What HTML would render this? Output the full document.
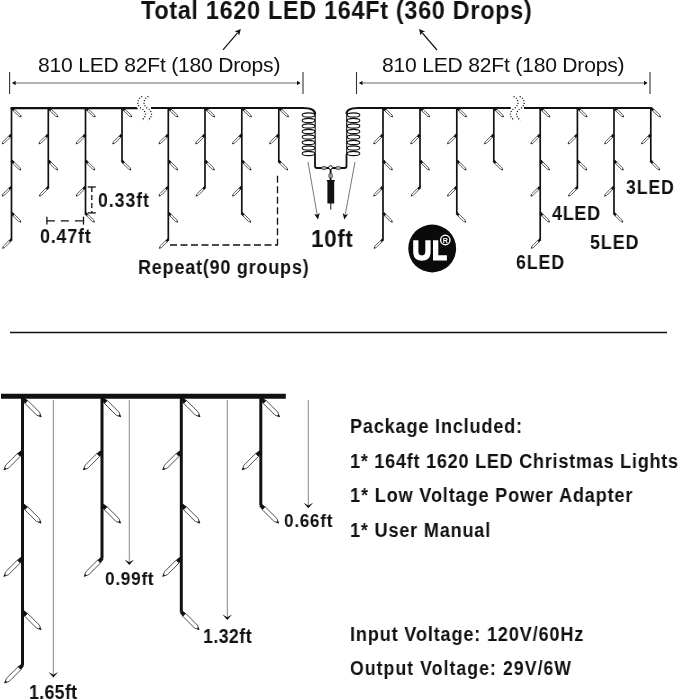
<!DOCTYPE html>
<html><head><meta charset="utf-8"><style>
html,body{margin:0;padding:0;background:#fff;}
body{width:679px;height:700px;position:relative;overflow:hidden;}
.t{position:absolute;font-family:"Liberation Sans",sans-serif;line-height:1;white-space:nowrap;color:#111;will-change:transform;}
</style></head><body>
<svg width="679" height="700" viewBox="0 0 679 700" style="position:absolute;left:0;top:0;will-change:transform"><path d="M10.6,106.9 H136.5 L138.4,109.2 H10.6 Z" fill="#111"/><path d="M151,108 H303 Q315,108 315,114" stroke="#111" stroke-width="2.2" fill="none"/><path d="M510.8,108 H346 Q346.5,108 346.5,114" stroke="#111" stroke-width="0" fill="none"/><path d="M358,108 Q346.5,108 346.5,114" stroke="#111" stroke-width="2" fill="none"/><path d="M358,108 H510.8" stroke="#111" stroke-width="2.2" fill="none"/><path d="M524,108 H651.6" stroke="#111" stroke-width="2.2" fill="none"/><line x1="11.5" y1="108" x2="11.5" y2="239.4" stroke="#111" stroke-width="1.7"/><g transform="translate(12.01,108.35) rotate(43)"><polygon points="-0.4,-1.4 2.9,-1.15 2.9,1.15 -0.4,1.4" fill="#111"/><path d="M2.6,-1.0 H10.6 L12.6,0 L10.6,1.0 H2.6 Z" fill="#fff" stroke="#111" stroke-width="0.65" stroke-linejoin="miter"/><polygon points="11.5,-0.55 12.799999999999999,0 11.5,0.55" fill="#111"/></g><g transform="translate(11.07,135.00) rotate(135)"><polygon points="-0.4,-1.4 2.9,-1.15 2.9,1.15 -0.4,1.4" fill="#111"/><path d="M2.6,-1.0 H10.6 L12.6,0 L10.6,1.0 H2.6 Z" fill="#fff" stroke="#111" stroke-width="0.65" stroke-linejoin="miter"/><polygon points="11.5,-0.55 12.799999999999999,0 11.5,0.55" fill="#111"/></g><g transform="translate(11.93,161.10) rotate(45)"><polygon points="-0.4,-1.4 2.9,-1.15 2.9,1.15 -0.4,1.4" fill="#111"/><path d="M2.6,-1.0 H10.6 L12.6,0 L10.6,1.0 H2.6 Z" fill="#fff" stroke="#111" stroke-width="0.65" stroke-linejoin="miter"/><polygon points="11.5,-0.55 12.799999999999999,0 11.5,0.55" fill="#111"/></g><g transform="translate(11.07,187.20) rotate(135)"><polygon points="-0.4,-1.4 2.9,-1.15 2.9,1.15 -0.4,1.4" fill="#111"/><path d="M2.6,-1.0 H10.6 L12.6,0 L10.6,1.0 H2.6 Z" fill="#fff" stroke="#111" stroke-width="0.65" stroke-linejoin="miter"/><polygon points="11.5,-0.55 12.799999999999999,0 11.5,0.55" fill="#111"/></g><g transform="translate(11.93,213.30) rotate(45)"><polygon points="-0.4,-1.4 2.9,-1.15 2.9,1.15 -0.4,1.4" fill="#111"/><path d="M2.6,-1.0 H10.6 L12.6,0 L10.6,1.0 H2.6 Z" fill="#fff" stroke="#111" stroke-width="0.65" stroke-linejoin="miter"/><polygon points="11.5,-0.55 12.799999999999999,0 11.5,0.55" fill="#111"/></g><g transform="translate(11.50,239.40) rotate(135)"><polygon points="-0.4,-1.4 2.9,-1.15 2.9,1.15 -0.4,1.4" fill="#111"/><path d="M2.6,-1.0 H10.6 L12.6,0 L10.6,1.0 H2.6 Z" fill="#fff" stroke="#111" stroke-width="0.65" stroke-linejoin="miter"/><polygon points="11.5,-0.55 12.799999999999999,0 11.5,0.55" fill="#111"/></g><line x1="48.3" y1="108" x2="48.3" y2="187.20000000000002" stroke="#111" stroke-width="1.7"/><g transform="translate(48.81,108.35) rotate(43)"><polygon points="-0.4,-1.4 2.9,-1.15 2.9,1.15 -0.4,1.4" fill="#111"/><path d="M2.6,-1.0 H10.6 L12.6,0 L10.6,1.0 H2.6 Z" fill="#fff" stroke="#111" stroke-width="0.65" stroke-linejoin="miter"/><polygon points="11.5,-0.55 12.799999999999999,0 11.5,0.55" fill="#111"/></g><g transform="translate(47.88,135.00) rotate(135)"><polygon points="-0.4,-1.4 2.9,-1.15 2.9,1.15 -0.4,1.4" fill="#111"/><path d="M2.6,-1.0 H10.6 L12.6,0 L10.6,1.0 H2.6 Z" fill="#fff" stroke="#111" stroke-width="0.65" stroke-linejoin="miter"/><polygon points="11.5,-0.55 12.799999999999999,0 11.5,0.55" fill="#111"/></g><g transform="translate(48.72,161.10) rotate(45)"><polygon points="-0.4,-1.4 2.9,-1.15 2.9,1.15 -0.4,1.4" fill="#111"/><path d="M2.6,-1.0 H10.6 L12.6,0 L10.6,1.0 H2.6 Z" fill="#fff" stroke="#111" stroke-width="0.65" stroke-linejoin="miter"/><polygon points="11.5,-0.55 12.799999999999999,0 11.5,0.55" fill="#111"/></g><g transform="translate(48.30,187.20) rotate(135)"><polygon points="-0.4,-1.4 2.9,-1.15 2.9,1.15 -0.4,1.4" fill="#111"/><path d="M2.6,-1.0 H10.6 L12.6,0 L10.6,1.0 H2.6 Z" fill="#fff" stroke="#111" stroke-width="0.65" stroke-linejoin="miter"/><polygon points="11.5,-0.55 12.799999999999999,0 11.5,0.55" fill="#111"/></g><line x1="85.5" y1="108" x2="85.5" y2="213.3" stroke="#111" stroke-width="1.7"/><g transform="translate(86.01,108.35) rotate(43)"><polygon points="-0.4,-1.4 2.9,-1.15 2.9,1.15 -0.4,1.4" fill="#111"/><path d="M2.6,-1.0 H10.6 L12.6,0 L10.6,1.0 H2.6 Z" fill="#fff" stroke="#111" stroke-width="0.65" stroke-linejoin="miter"/><polygon points="11.5,-0.55 12.799999999999999,0 11.5,0.55" fill="#111"/></g><g transform="translate(85.08,135.00) rotate(135)"><polygon points="-0.4,-1.4 2.9,-1.15 2.9,1.15 -0.4,1.4" fill="#111"/><path d="M2.6,-1.0 H10.6 L12.6,0 L10.6,1.0 H2.6 Z" fill="#fff" stroke="#111" stroke-width="0.65" stroke-linejoin="miter"/><polygon points="11.5,-0.55 12.799999999999999,0 11.5,0.55" fill="#111"/></g><g transform="translate(85.92,161.10) rotate(45)"><polygon points="-0.4,-1.4 2.9,-1.15 2.9,1.15 -0.4,1.4" fill="#111"/><path d="M2.6,-1.0 H10.6 L12.6,0 L10.6,1.0 H2.6 Z" fill="#fff" stroke="#111" stroke-width="0.65" stroke-linejoin="miter"/><polygon points="11.5,-0.55 12.799999999999999,0 11.5,0.55" fill="#111"/></g><g transform="translate(85.08,187.20) rotate(135)"><polygon points="-0.4,-1.4 2.9,-1.15 2.9,1.15 -0.4,1.4" fill="#111"/><path d="M2.6,-1.0 H10.6 L12.6,0 L10.6,1.0 H2.6 Z" fill="#fff" stroke="#111" stroke-width="0.65" stroke-linejoin="miter"/><polygon points="11.5,-0.55 12.799999999999999,0 11.5,0.55" fill="#111"/></g><g transform="translate(85.50,213.30) rotate(45)"><polygon points="-0.4,-1.4 2.9,-1.15 2.9,1.15 -0.4,1.4" fill="#111"/><path d="M2.6,-1.0 H10.6 L12.6,0 L10.6,1.0 H2.6 Z" fill="#fff" stroke="#111" stroke-width="0.65" stroke-linejoin="miter"/><polygon points="11.5,-0.55 12.799999999999999,0 11.5,0.55" fill="#111"/></g><line x1="122" y1="108" x2="122" y2="161.10000000000002" stroke="#111" stroke-width="1.7"/><g transform="translate(122.51,108.35) rotate(43)"><polygon points="-0.4,-1.4 2.9,-1.15 2.9,1.15 -0.4,1.4" fill="#111"/><path d="M2.6,-1.0 H10.6 L12.6,0 L10.6,1.0 H2.6 Z" fill="#fff" stroke="#111" stroke-width="0.65" stroke-linejoin="miter"/><polygon points="11.5,-0.55 12.799999999999999,0 11.5,0.55" fill="#111"/></g><g transform="translate(121.58,135.00) rotate(135)"><polygon points="-0.4,-1.4 2.9,-1.15 2.9,1.15 -0.4,1.4" fill="#111"/><path d="M2.6,-1.0 H10.6 L12.6,0 L10.6,1.0 H2.6 Z" fill="#fff" stroke="#111" stroke-width="0.65" stroke-linejoin="miter"/><polygon points="11.5,-0.55 12.799999999999999,0 11.5,0.55" fill="#111"/></g><g transform="translate(122.00,161.10) rotate(45)"><polygon points="-0.4,-1.4 2.9,-1.15 2.9,1.15 -0.4,1.4" fill="#111"/><path d="M2.6,-1.0 H10.6 L12.6,0 L10.6,1.0 H2.6 Z" fill="#fff" stroke="#111" stroke-width="0.65" stroke-linejoin="miter"/><polygon points="11.5,-0.55 12.799999999999999,0 11.5,0.55" fill="#111"/></g><line x1="168.3" y1="108" x2="168.3" y2="239.4" stroke="#111" stroke-width="1.7"/><g transform="translate(168.81,108.35) rotate(43)"><polygon points="-0.4,-1.4 2.9,-1.15 2.9,1.15 -0.4,1.4" fill="#111"/><path d="M2.6,-1.0 H10.6 L12.6,0 L10.6,1.0 H2.6 Z" fill="#fff" stroke="#111" stroke-width="0.65" stroke-linejoin="miter"/><polygon points="11.5,-0.55 12.799999999999999,0 11.5,0.55" fill="#111"/></g><g transform="translate(167.88,135.00) rotate(135)"><polygon points="-0.4,-1.4 2.9,-1.15 2.9,1.15 -0.4,1.4" fill="#111"/><path d="M2.6,-1.0 H10.6 L12.6,0 L10.6,1.0 H2.6 Z" fill="#fff" stroke="#111" stroke-width="0.65" stroke-linejoin="miter"/><polygon points="11.5,-0.55 12.799999999999999,0 11.5,0.55" fill="#111"/></g><g transform="translate(168.73,161.10) rotate(45)"><polygon points="-0.4,-1.4 2.9,-1.15 2.9,1.15 -0.4,1.4" fill="#111"/><path d="M2.6,-1.0 H10.6 L12.6,0 L10.6,1.0 H2.6 Z" fill="#fff" stroke="#111" stroke-width="0.65" stroke-linejoin="miter"/><polygon points="11.5,-0.55 12.799999999999999,0 11.5,0.55" fill="#111"/></g><g transform="translate(167.88,187.20) rotate(135)"><polygon points="-0.4,-1.4 2.9,-1.15 2.9,1.15 -0.4,1.4" fill="#111"/><path d="M2.6,-1.0 H10.6 L12.6,0 L10.6,1.0 H2.6 Z" fill="#fff" stroke="#111" stroke-width="0.65" stroke-linejoin="miter"/><polygon points="11.5,-0.55 12.799999999999999,0 11.5,0.55" fill="#111"/></g><g transform="translate(168.73,213.30) rotate(45)"><polygon points="-0.4,-1.4 2.9,-1.15 2.9,1.15 -0.4,1.4" fill="#111"/><path d="M2.6,-1.0 H10.6 L12.6,0 L10.6,1.0 H2.6 Z" fill="#fff" stroke="#111" stroke-width="0.65" stroke-linejoin="miter"/><polygon points="11.5,-0.55 12.799999999999999,0 11.5,0.55" fill="#111"/></g><g transform="translate(168.30,239.40) rotate(135)"><polygon points="-0.4,-1.4 2.9,-1.15 2.9,1.15 -0.4,1.4" fill="#111"/><path d="M2.6,-1.0 H10.6 L12.6,0 L10.6,1.0 H2.6 Z" fill="#fff" stroke="#111" stroke-width="0.65" stroke-linejoin="miter"/><polygon points="11.5,-0.55 12.799999999999999,0 11.5,0.55" fill="#111"/></g><line x1="205" y1="108" x2="205" y2="187.20000000000002" stroke="#111" stroke-width="1.7"/><g transform="translate(205.51,108.35) rotate(43)"><polygon points="-0.4,-1.4 2.9,-1.15 2.9,1.15 -0.4,1.4" fill="#111"/><path d="M2.6,-1.0 H10.6 L12.6,0 L10.6,1.0 H2.6 Z" fill="#fff" stroke="#111" stroke-width="0.65" stroke-linejoin="miter"/><polygon points="11.5,-0.55 12.799999999999999,0 11.5,0.55" fill="#111"/></g><g transform="translate(204.57,135.00) rotate(135)"><polygon points="-0.4,-1.4 2.9,-1.15 2.9,1.15 -0.4,1.4" fill="#111"/><path d="M2.6,-1.0 H10.6 L12.6,0 L10.6,1.0 H2.6 Z" fill="#fff" stroke="#111" stroke-width="0.65" stroke-linejoin="miter"/><polygon points="11.5,-0.55 12.799999999999999,0 11.5,0.55" fill="#111"/></g><g transform="translate(205.43,161.10) rotate(45)"><polygon points="-0.4,-1.4 2.9,-1.15 2.9,1.15 -0.4,1.4" fill="#111"/><path d="M2.6,-1.0 H10.6 L12.6,0 L10.6,1.0 H2.6 Z" fill="#fff" stroke="#111" stroke-width="0.65" stroke-linejoin="miter"/><polygon points="11.5,-0.55 12.799999999999999,0 11.5,0.55" fill="#111"/></g><g transform="translate(205.00,187.20) rotate(135)"><polygon points="-0.4,-1.4 2.9,-1.15 2.9,1.15 -0.4,1.4" fill="#111"/><path d="M2.6,-1.0 H10.6 L12.6,0 L10.6,1.0 H2.6 Z" fill="#fff" stroke="#111" stroke-width="0.65" stroke-linejoin="miter"/><polygon points="11.5,-0.55 12.799999999999999,0 11.5,0.55" fill="#111"/></g><line x1="241.8" y1="108" x2="241.8" y2="213.3" stroke="#111" stroke-width="1.7"/><g transform="translate(242.31,108.35) rotate(43)"><polygon points="-0.4,-1.4 2.9,-1.15 2.9,1.15 -0.4,1.4" fill="#111"/><path d="M2.6,-1.0 H10.6 L12.6,0 L10.6,1.0 H2.6 Z" fill="#fff" stroke="#111" stroke-width="0.65" stroke-linejoin="miter"/><polygon points="11.5,-0.55 12.799999999999999,0 11.5,0.55" fill="#111"/></g><g transform="translate(241.38,135.00) rotate(135)"><polygon points="-0.4,-1.4 2.9,-1.15 2.9,1.15 -0.4,1.4" fill="#111"/><path d="M2.6,-1.0 H10.6 L12.6,0 L10.6,1.0 H2.6 Z" fill="#fff" stroke="#111" stroke-width="0.65" stroke-linejoin="miter"/><polygon points="11.5,-0.55 12.799999999999999,0 11.5,0.55" fill="#111"/></g><g transform="translate(242.23,161.10) rotate(45)"><polygon points="-0.4,-1.4 2.9,-1.15 2.9,1.15 -0.4,1.4" fill="#111"/><path d="M2.6,-1.0 H10.6 L12.6,0 L10.6,1.0 H2.6 Z" fill="#fff" stroke="#111" stroke-width="0.65" stroke-linejoin="miter"/><polygon points="11.5,-0.55 12.799999999999999,0 11.5,0.55" fill="#111"/></g><g transform="translate(241.38,187.20) rotate(135)"><polygon points="-0.4,-1.4 2.9,-1.15 2.9,1.15 -0.4,1.4" fill="#111"/><path d="M2.6,-1.0 H10.6 L12.6,0 L10.6,1.0 H2.6 Z" fill="#fff" stroke="#111" stroke-width="0.65" stroke-linejoin="miter"/><polygon points="11.5,-0.55 12.799999999999999,0 11.5,0.55" fill="#111"/></g><g transform="translate(241.80,213.30) rotate(45)"><polygon points="-0.4,-1.4 2.9,-1.15 2.9,1.15 -0.4,1.4" fill="#111"/><path d="M2.6,-1.0 H10.6 L12.6,0 L10.6,1.0 H2.6 Z" fill="#fff" stroke="#111" stroke-width="0.65" stroke-linejoin="miter"/><polygon points="11.5,-0.55 12.799999999999999,0 11.5,0.55" fill="#111"/></g><line x1="278.8" y1="108" x2="278.8" y2="161.10000000000002" stroke="#111" stroke-width="1.7"/><g transform="translate(279.31,108.35) rotate(43)"><polygon points="-0.4,-1.4 2.9,-1.15 2.9,1.15 -0.4,1.4" fill="#111"/><path d="M2.6,-1.0 H10.6 L12.6,0 L10.6,1.0 H2.6 Z" fill="#fff" stroke="#111" stroke-width="0.65" stroke-linejoin="miter"/><polygon points="11.5,-0.55 12.799999999999999,0 11.5,0.55" fill="#111"/></g><g transform="translate(278.38,135.00) rotate(135)"><polygon points="-0.4,-1.4 2.9,-1.15 2.9,1.15 -0.4,1.4" fill="#111"/><path d="M2.6,-1.0 H10.6 L12.6,0 L10.6,1.0 H2.6 Z" fill="#fff" stroke="#111" stroke-width="0.65" stroke-linejoin="miter"/><polygon points="11.5,-0.55 12.799999999999999,0 11.5,0.55" fill="#111"/></g><g transform="translate(278.80,161.10) rotate(45)"><polygon points="-0.4,-1.4 2.9,-1.15 2.9,1.15 -0.4,1.4" fill="#111"/><path d="M2.6,-1.0 H10.6 L12.6,0 L10.6,1.0 H2.6 Z" fill="#fff" stroke="#111" stroke-width="0.65" stroke-linejoin="miter"/><polygon points="11.5,-0.55 12.799999999999999,0 11.5,0.55" fill="#111"/></g><line x1="383" y1="108" x2="383" y2="239.4" stroke="#111" stroke-width="1.7"/><g transform="translate(383.51,108.35) rotate(43)"><polygon points="-0.4,-1.4 2.9,-1.15 2.9,1.15 -0.4,1.4" fill="#111"/><path d="M2.6,-1.0 H10.6 L12.6,0 L10.6,1.0 H2.6 Z" fill="#fff" stroke="#111" stroke-width="0.65" stroke-linejoin="miter"/><polygon points="11.5,-0.55 12.799999999999999,0 11.5,0.55" fill="#111"/></g><g transform="translate(382.57,135.00) rotate(135)"><polygon points="-0.4,-1.4 2.9,-1.15 2.9,1.15 -0.4,1.4" fill="#111"/><path d="M2.6,-1.0 H10.6 L12.6,0 L10.6,1.0 H2.6 Z" fill="#fff" stroke="#111" stroke-width="0.65" stroke-linejoin="miter"/><polygon points="11.5,-0.55 12.799999999999999,0 11.5,0.55" fill="#111"/></g><g transform="translate(383.43,161.10) rotate(45)"><polygon points="-0.4,-1.4 2.9,-1.15 2.9,1.15 -0.4,1.4" fill="#111"/><path d="M2.6,-1.0 H10.6 L12.6,0 L10.6,1.0 H2.6 Z" fill="#fff" stroke="#111" stroke-width="0.65" stroke-linejoin="miter"/><polygon points="11.5,-0.55 12.799999999999999,0 11.5,0.55" fill="#111"/></g><g transform="translate(382.57,187.20) rotate(135)"><polygon points="-0.4,-1.4 2.9,-1.15 2.9,1.15 -0.4,1.4" fill="#111"/><path d="M2.6,-1.0 H10.6 L12.6,0 L10.6,1.0 H2.6 Z" fill="#fff" stroke="#111" stroke-width="0.65" stroke-linejoin="miter"/><polygon points="11.5,-0.55 12.799999999999999,0 11.5,0.55" fill="#111"/></g><g transform="translate(383.43,213.30) rotate(45)"><polygon points="-0.4,-1.4 2.9,-1.15 2.9,1.15 -0.4,1.4" fill="#111"/><path d="M2.6,-1.0 H10.6 L12.6,0 L10.6,1.0 H2.6 Z" fill="#fff" stroke="#111" stroke-width="0.65" stroke-linejoin="miter"/><polygon points="11.5,-0.55 12.799999999999999,0 11.5,0.55" fill="#111"/></g><g transform="translate(383.00,239.40) rotate(135)"><polygon points="-0.4,-1.4 2.9,-1.15 2.9,1.15 -0.4,1.4" fill="#111"/><path d="M2.6,-1.0 H10.6 L12.6,0 L10.6,1.0 H2.6 Z" fill="#fff" stroke="#111" stroke-width="0.65" stroke-linejoin="miter"/><polygon points="11.5,-0.55 12.799999999999999,0 11.5,0.55" fill="#111"/></g><line x1="420" y1="108" x2="420" y2="187.20000000000002" stroke="#111" stroke-width="1.7"/><g transform="translate(420.51,108.35) rotate(43)"><polygon points="-0.4,-1.4 2.9,-1.15 2.9,1.15 -0.4,1.4" fill="#111"/><path d="M2.6,-1.0 H10.6 L12.6,0 L10.6,1.0 H2.6 Z" fill="#fff" stroke="#111" stroke-width="0.65" stroke-linejoin="miter"/><polygon points="11.5,-0.55 12.799999999999999,0 11.5,0.55" fill="#111"/></g><g transform="translate(419.57,135.00) rotate(135)"><polygon points="-0.4,-1.4 2.9,-1.15 2.9,1.15 -0.4,1.4" fill="#111"/><path d="M2.6,-1.0 H10.6 L12.6,0 L10.6,1.0 H2.6 Z" fill="#fff" stroke="#111" stroke-width="0.65" stroke-linejoin="miter"/><polygon points="11.5,-0.55 12.799999999999999,0 11.5,0.55" fill="#111"/></g><g transform="translate(420.43,161.10) rotate(45)"><polygon points="-0.4,-1.4 2.9,-1.15 2.9,1.15 -0.4,1.4" fill="#111"/><path d="M2.6,-1.0 H10.6 L12.6,0 L10.6,1.0 H2.6 Z" fill="#fff" stroke="#111" stroke-width="0.65" stroke-linejoin="miter"/><polygon points="11.5,-0.55 12.799999999999999,0 11.5,0.55" fill="#111"/></g><g transform="translate(420.00,187.20) rotate(135)"><polygon points="-0.4,-1.4 2.9,-1.15 2.9,1.15 -0.4,1.4" fill="#111"/><path d="M2.6,-1.0 H10.6 L12.6,0 L10.6,1.0 H2.6 Z" fill="#fff" stroke="#111" stroke-width="0.65" stroke-linejoin="miter"/><polygon points="11.5,-0.55 12.799999999999999,0 11.5,0.55" fill="#111"/></g><line x1="456.8" y1="108" x2="456.8" y2="213.3" stroke="#111" stroke-width="1.7"/><g transform="translate(457.31,108.35) rotate(43)"><polygon points="-0.4,-1.4 2.9,-1.15 2.9,1.15 -0.4,1.4" fill="#111"/><path d="M2.6,-1.0 H10.6 L12.6,0 L10.6,1.0 H2.6 Z" fill="#fff" stroke="#111" stroke-width="0.65" stroke-linejoin="miter"/><polygon points="11.5,-0.55 12.799999999999999,0 11.5,0.55" fill="#111"/></g><g transform="translate(456.38,135.00) rotate(135)"><polygon points="-0.4,-1.4 2.9,-1.15 2.9,1.15 -0.4,1.4" fill="#111"/><path d="M2.6,-1.0 H10.6 L12.6,0 L10.6,1.0 H2.6 Z" fill="#fff" stroke="#111" stroke-width="0.65" stroke-linejoin="miter"/><polygon points="11.5,-0.55 12.799999999999999,0 11.5,0.55" fill="#111"/></g><g transform="translate(457.23,161.10) rotate(45)"><polygon points="-0.4,-1.4 2.9,-1.15 2.9,1.15 -0.4,1.4" fill="#111"/><path d="M2.6,-1.0 H10.6 L12.6,0 L10.6,1.0 H2.6 Z" fill="#fff" stroke="#111" stroke-width="0.65" stroke-linejoin="miter"/><polygon points="11.5,-0.55 12.799999999999999,0 11.5,0.55" fill="#111"/></g><g transform="translate(456.38,187.20) rotate(135)"><polygon points="-0.4,-1.4 2.9,-1.15 2.9,1.15 -0.4,1.4" fill="#111"/><path d="M2.6,-1.0 H10.6 L12.6,0 L10.6,1.0 H2.6 Z" fill="#fff" stroke="#111" stroke-width="0.65" stroke-linejoin="miter"/><polygon points="11.5,-0.55 12.799999999999999,0 11.5,0.55" fill="#111"/></g><g transform="translate(456.80,213.30) rotate(45)"><polygon points="-0.4,-1.4 2.9,-1.15 2.9,1.15 -0.4,1.4" fill="#111"/><path d="M2.6,-1.0 H10.6 L12.6,0 L10.6,1.0 H2.6 Z" fill="#fff" stroke="#111" stroke-width="0.65" stroke-linejoin="miter"/><polygon points="11.5,-0.55 12.799999999999999,0 11.5,0.55" fill="#111"/></g><line x1="493.8" y1="108" x2="493.8" y2="161.10000000000002" stroke="#111" stroke-width="1.7"/><g transform="translate(494.31,108.35) rotate(43)"><polygon points="-0.4,-1.4 2.9,-1.15 2.9,1.15 -0.4,1.4" fill="#111"/><path d="M2.6,-1.0 H10.6 L12.6,0 L10.6,1.0 H2.6 Z" fill="#fff" stroke="#111" stroke-width="0.65" stroke-linejoin="miter"/><polygon points="11.5,-0.55 12.799999999999999,0 11.5,0.55" fill="#111"/></g><g transform="translate(493.38,135.00) rotate(135)"><polygon points="-0.4,-1.4 2.9,-1.15 2.9,1.15 -0.4,1.4" fill="#111"/><path d="M2.6,-1.0 H10.6 L12.6,0 L10.6,1.0 H2.6 Z" fill="#fff" stroke="#111" stroke-width="0.65" stroke-linejoin="miter"/><polygon points="11.5,-0.55 12.799999999999999,0 11.5,0.55" fill="#111"/></g><g transform="translate(493.80,161.10) rotate(45)"><polygon points="-0.4,-1.4 2.9,-1.15 2.9,1.15 -0.4,1.4" fill="#111"/><path d="M2.6,-1.0 H10.6 L12.6,0 L10.6,1.0 H2.6 Z" fill="#fff" stroke="#111" stroke-width="0.65" stroke-linejoin="miter"/><polygon points="11.5,-0.55 12.799999999999999,0 11.5,0.55" fill="#111"/></g><line x1="540.2" y1="108" x2="540.2" y2="239.4" stroke="#111" stroke-width="1.7"/><g transform="translate(540.71,108.35) rotate(43)"><polygon points="-0.4,-1.4 2.9,-1.15 2.9,1.15 -0.4,1.4" fill="#111"/><path d="M2.6,-1.0 H10.6 L12.6,0 L10.6,1.0 H2.6 Z" fill="#fff" stroke="#111" stroke-width="0.65" stroke-linejoin="miter"/><polygon points="11.5,-0.55 12.799999999999999,0 11.5,0.55" fill="#111"/></g><g transform="translate(539.78,135.00) rotate(135)"><polygon points="-0.4,-1.4 2.9,-1.15 2.9,1.15 -0.4,1.4" fill="#111"/><path d="M2.6,-1.0 H10.6 L12.6,0 L10.6,1.0 H2.6 Z" fill="#fff" stroke="#111" stroke-width="0.65" stroke-linejoin="miter"/><polygon points="11.5,-0.55 12.799999999999999,0 11.5,0.55" fill="#111"/></g><g transform="translate(540.62,161.10) rotate(45)"><polygon points="-0.4,-1.4 2.9,-1.15 2.9,1.15 -0.4,1.4" fill="#111"/><path d="M2.6,-1.0 H10.6 L12.6,0 L10.6,1.0 H2.6 Z" fill="#fff" stroke="#111" stroke-width="0.65" stroke-linejoin="miter"/><polygon points="11.5,-0.55 12.799999999999999,0 11.5,0.55" fill="#111"/></g><g transform="translate(539.78,187.20) rotate(135)"><polygon points="-0.4,-1.4 2.9,-1.15 2.9,1.15 -0.4,1.4" fill="#111"/><path d="M2.6,-1.0 H10.6 L12.6,0 L10.6,1.0 H2.6 Z" fill="#fff" stroke="#111" stroke-width="0.65" stroke-linejoin="miter"/><polygon points="11.5,-0.55 12.799999999999999,0 11.5,0.55" fill="#111"/></g><g transform="translate(540.62,213.30) rotate(45)"><polygon points="-0.4,-1.4 2.9,-1.15 2.9,1.15 -0.4,1.4" fill="#111"/><path d="M2.6,-1.0 H10.6 L12.6,0 L10.6,1.0 H2.6 Z" fill="#fff" stroke="#111" stroke-width="0.65" stroke-linejoin="miter"/><polygon points="11.5,-0.55 12.799999999999999,0 11.5,0.55" fill="#111"/></g><g transform="translate(540.20,239.40) rotate(135)"><polygon points="-0.4,-1.4 2.9,-1.15 2.9,1.15 -0.4,1.4" fill="#111"/><path d="M2.6,-1.0 H10.6 L12.6,0 L10.6,1.0 H2.6 Z" fill="#fff" stroke="#111" stroke-width="0.65" stroke-linejoin="miter"/><polygon points="11.5,-0.55 12.799999999999999,0 11.5,0.55" fill="#111"/></g><line x1="577.4" y1="108" x2="577.4" y2="187.20000000000002" stroke="#111" stroke-width="1.7"/><g transform="translate(577.91,108.35) rotate(43)"><polygon points="-0.4,-1.4 2.9,-1.15 2.9,1.15 -0.4,1.4" fill="#111"/><path d="M2.6,-1.0 H10.6 L12.6,0 L10.6,1.0 H2.6 Z" fill="#fff" stroke="#111" stroke-width="0.65" stroke-linejoin="miter"/><polygon points="11.5,-0.55 12.799999999999999,0 11.5,0.55" fill="#111"/></g><g transform="translate(576.98,135.00) rotate(135)"><polygon points="-0.4,-1.4 2.9,-1.15 2.9,1.15 -0.4,1.4" fill="#111"/><path d="M2.6,-1.0 H10.6 L12.6,0 L10.6,1.0 H2.6 Z" fill="#fff" stroke="#111" stroke-width="0.65" stroke-linejoin="miter"/><polygon points="11.5,-0.55 12.799999999999999,0 11.5,0.55" fill="#111"/></g><g transform="translate(577.82,161.10) rotate(45)"><polygon points="-0.4,-1.4 2.9,-1.15 2.9,1.15 -0.4,1.4" fill="#111"/><path d="M2.6,-1.0 H10.6 L12.6,0 L10.6,1.0 H2.6 Z" fill="#fff" stroke="#111" stroke-width="0.65" stroke-linejoin="miter"/><polygon points="11.5,-0.55 12.799999999999999,0 11.5,0.55" fill="#111"/></g><g transform="translate(577.40,187.20) rotate(135)"><polygon points="-0.4,-1.4 2.9,-1.15 2.9,1.15 -0.4,1.4" fill="#111"/><path d="M2.6,-1.0 H10.6 L12.6,0 L10.6,1.0 H2.6 Z" fill="#fff" stroke="#111" stroke-width="0.65" stroke-linejoin="miter"/><polygon points="11.5,-0.55 12.799999999999999,0 11.5,0.55" fill="#111"/></g><line x1="614" y1="108" x2="614" y2="213.3" stroke="#111" stroke-width="1.7"/><g transform="translate(614.51,108.35) rotate(43)"><polygon points="-0.4,-1.4 2.9,-1.15 2.9,1.15 -0.4,1.4" fill="#111"/><path d="M2.6,-1.0 H10.6 L12.6,0 L10.6,1.0 H2.6 Z" fill="#fff" stroke="#111" stroke-width="0.65" stroke-linejoin="miter"/><polygon points="11.5,-0.55 12.799999999999999,0 11.5,0.55" fill="#111"/></g><g transform="translate(613.58,135.00) rotate(135)"><polygon points="-0.4,-1.4 2.9,-1.15 2.9,1.15 -0.4,1.4" fill="#111"/><path d="M2.6,-1.0 H10.6 L12.6,0 L10.6,1.0 H2.6 Z" fill="#fff" stroke="#111" stroke-width="0.65" stroke-linejoin="miter"/><polygon points="11.5,-0.55 12.799999999999999,0 11.5,0.55" fill="#111"/></g><g transform="translate(614.42,161.10) rotate(45)"><polygon points="-0.4,-1.4 2.9,-1.15 2.9,1.15 -0.4,1.4" fill="#111"/><path d="M2.6,-1.0 H10.6 L12.6,0 L10.6,1.0 H2.6 Z" fill="#fff" stroke="#111" stroke-width="0.65" stroke-linejoin="miter"/><polygon points="11.5,-0.55 12.799999999999999,0 11.5,0.55" fill="#111"/></g><g transform="translate(613.58,187.20) rotate(135)"><polygon points="-0.4,-1.4 2.9,-1.15 2.9,1.15 -0.4,1.4" fill="#111"/><path d="M2.6,-1.0 H10.6 L12.6,0 L10.6,1.0 H2.6 Z" fill="#fff" stroke="#111" stroke-width="0.65" stroke-linejoin="miter"/><polygon points="11.5,-0.55 12.799999999999999,0 11.5,0.55" fill="#111"/></g><g transform="translate(614.00,213.30) rotate(45)"><polygon points="-0.4,-1.4 2.9,-1.15 2.9,1.15 -0.4,1.4" fill="#111"/><path d="M2.6,-1.0 H10.6 L12.6,0 L10.6,1.0 H2.6 Z" fill="#fff" stroke="#111" stroke-width="0.65" stroke-linejoin="miter"/><polygon points="11.5,-0.55 12.799999999999999,0 11.5,0.55" fill="#111"/></g><line x1="650.8" y1="108" x2="650.8" y2="161.10000000000002" stroke="#111" stroke-width="1.7"/><g transform="translate(651.31,108.35) rotate(43)"><polygon points="-0.4,-1.4 2.9,-1.15 2.9,1.15 -0.4,1.4" fill="#111"/><path d="M2.6,-1.0 H10.6 L12.6,0 L10.6,1.0 H2.6 Z" fill="#fff" stroke="#111" stroke-width="0.65" stroke-linejoin="miter"/><polygon points="11.5,-0.55 12.799999999999999,0 11.5,0.55" fill="#111"/></g><g transform="translate(650.38,135.00) rotate(135)"><polygon points="-0.4,-1.4 2.9,-1.15 2.9,1.15 -0.4,1.4" fill="#111"/><path d="M2.6,-1.0 H10.6 L12.6,0 L10.6,1.0 H2.6 Z" fill="#fff" stroke="#111" stroke-width="0.65" stroke-linejoin="miter"/><polygon points="11.5,-0.55 12.799999999999999,0 11.5,0.55" fill="#111"/></g><g transform="translate(650.80,161.10) rotate(45)"><polygon points="-0.4,-1.4 2.9,-1.15 2.9,1.15 -0.4,1.4" fill="#111"/><path d="M2.6,-1.0 H10.6 L12.6,0 L10.6,1.0 H2.6 Z" fill="#fff" stroke="#111" stroke-width="0.65" stroke-linejoin="miter"/><polygon points="11.5,-0.55 12.799999999999999,0 11.5,0.55" fill="#111"/></g><path d="M142.30,96.4 C136.80,99 136.50,105 140.80,108 C146.80,111.5 146.80,117 141.30,120.3" stroke="#000" stroke-width="1.15" fill="none" stroke-dasharray="1.1 1.6"/><path d="M148.50,96.4 C143.00,99 142.70,105 147.00,108 C153.00,111.5 153.00,117 147.50,120.3" stroke="#000" stroke-width="1.15" fill="none" stroke-dasharray="1.1 1.6"/><path d="M513.50,96.4 C519.00,99 519.30,105 515.00,108 C509.00,111.5 509.00,117 514.50,120.3" stroke="#000" stroke-width="1.15" fill="none" stroke-dasharray="1.1 1.6"/><path d="M519.70,96.4 C525.20,99 525.50,105 521.20,108 C515.20,111.5 515.20,117 520.70,120.3" stroke="#000" stroke-width="1.15" fill="none" stroke-dasharray="1.1 1.6"/><ellipse cx="308.5" cy="115.0" rx="6.3" ry="2.1" fill="none" stroke="#111" stroke-width="1.1"/><ellipse cx="308.5" cy="120.5" rx="6.3" ry="2.1" fill="none" stroke="#111" stroke-width="1.1"/><ellipse cx="308.5" cy="126.0" rx="6.3" ry="2.1" fill="none" stroke="#111" stroke-width="1.1"/><ellipse cx="308.5" cy="131.5" rx="6.3" ry="2.1" fill="none" stroke="#111" stroke-width="1.1"/><ellipse cx="308.5" cy="137.0" rx="6.3" ry="2.1" fill="none" stroke="#111" stroke-width="1.1"/><ellipse cx="308.5" cy="142.5" rx="6.3" ry="2.1" fill="none" stroke="#111" stroke-width="1.1"/><ellipse cx="308.5" cy="148.0" rx="6.3" ry="2.1" fill="none" stroke="#111" stroke-width="1.1"/><ellipse cx="308.5" cy="153.5" rx="6.3" ry="2.1" fill="none" stroke="#111" stroke-width="1.1"/><line x1="315.2" y1="112" x2="315.2" y2="155" stroke="#111" stroke-width="1.1"/><ellipse cx="353.5" cy="115.0" rx="6.3" ry="2.1" fill="none" stroke="#111" stroke-width="1.1"/><ellipse cx="353.5" cy="120.5" rx="6.3" ry="2.1" fill="none" stroke="#111" stroke-width="1.1"/><ellipse cx="353.5" cy="126.0" rx="6.3" ry="2.1" fill="none" stroke="#111" stroke-width="1.1"/><ellipse cx="353.5" cy="131.5" rx="6.3" ry="2.1" fill="none" stroke="#111" stroke-width="1.1"/><ellipse cx="353.5" cy="137.0" rx="6.3" ry="2.1" fill="none" stroke="#111" stroke-width="1.1"/><ellipse cx="353.5" cy="142.5" rx="6.3" ry="2.1" fill="none" stroke="#111" stroke-width="1.1"/><ellipse cx="353.5" cy="148.0" rx="6.3" ry="2.1" fill="none" stroke="#111" stroke-width="1.1"/><ellipse cx="353.5" cy="153.5" rx="6.3" ry="2.1" fill="none" stroke="#111" stroke-width="1.1"/><line x1="346.7" y1="112" x2="346.7" y2="155" stroke="#111" stroke-width="1.1"/><path d="M315,154 V166 Q315,168 317,168 H344.5 Q346.5,168 346.5,166 V154" stroke="#111" stroke-width="1.8" fill="none"/><rect x="321.8" y="166.4" width="4.4" height="3.2" rx="1" fill="#999" stroke="#333" stroke-width="0.6"/><rect x="336.1" y="166.4" width="4.4" height="3.2" rx="1" fill="#999" stroke="#333" stroke-width="0.6"/><line x1="330.6" y1="168" x2="330.6" y2="180" stroke="#111" stroke-width="1.8"/><circle cx="330.6" cy="167.6" r="1.9" fill="#fff" stroke="#111" stroke-width="1"/><rect x="328.8" y="173.5" width="3.6" height="4.4" rx="1" fill="#999" stroke="#333" stroke-width="0.6"/><path d="M326.6,180 H335 L334.2,182 V203.6 H327.4 V182 Z" fill="#111"/><line x1="330.8" y1="203" x2="330.8" y2="209.5" stroke="#111" stroke-width="1"/><line x1="308" y1="162" x2="317.14" y2="214.57" stroke="#555" stroke-width="0.8"/><polygon points="318.00,219.50 314.21,214.07 317.19,214.87 319.73,213.11" fill="#111"/><line x1="355" y1="162" x2="345.21" y2="214.58" stroke="#555" stroke-width="0.8"/><polygon points="344.30,219.50 342.64,213.09 345.16,214.88 348.15,214.11" fill="#111"/><line x1="223" y1="49.9" x2="237.56" y2="32.81" stroke="#111" stroke-width="1.2"/><polygon points="240.80,29.00 239.19,35.51 237.75,32.58 234.63,31.62" fill="#111"/><line x1="437" y1="50" x2="422.25" y2="32.80" stroke="#111" stroke-width="1.2"/><polygon points="419.00,29.00 425.18,31.60 422.06,32.57 420.63,35.51" fill="#111"/><line x1="9.6" y1="72" x2="9.6" y2="94" stroke="#333" stroke-width="1.1"/><line x1="303" y1="72" x2="303" y2="94" stroke="#333" stroke-width="1.1"/><line x1="12.6" y1="83" x2="300" y2="83" stroke="#666" stroke-width="1.2"/><polygon points="12.1,83 15.6,80.7 15.6,85.3" fill="#111"/><polygon points="300.5,83 297,80.7 297,85.3" fill="#111"/><line x1="356.5" y1="72" x2="356.5" y2="94" stroke="#333" stroke-width="1.1"/><line x1="650" y1="72" x2="650" y2="94" stroke="#333" stroke-width="1.1"/><line x1="359.5" y1="83" x2="647" y2="83" stroke="#666" stroke-width="1.2"/><polygon points="359.0,83 362.5,80.7 362.5,85.3" fill="#111"/><polygon points="647.5,83 644,80.7 644,85.3" fill="#111"/><line x1="91.8" y1="187" x2="91.8" y2="212.9" stroke="#111" stroke-width="1.3" stroke-dasharray="5 3"/><line x1="87.8" y1="187" x2="95.8" y2="187" stroke="#111" stroke-width="1.3"/><line x1="87.8" y1="212.9" x2="95.8" y2="212.9" stroke="#111" stroke-width="1.3"/><line x1="46.9" y1="220.8" x2="83.5" y2="220.8" stroke="#111" stroke-width="1.3" stroke-dasharray="8 6"/><line x1="46.9" y1="216.7" x2="46.9" y2="224.6" stroke="#111" stroke-width="1.3"/><line x1="83.5" y1="216.7" x2="83.5" y2="224.6" stroke="#111" stroke-width="1.3"/><path d="M170,245 H277.5" stroke="#111" stroke-width="1.3" fill="none" stroke-dasharray="7 3.5"/><path d="M277.5,175.7 V245.6" stroke="#111" stroke-width="1.3" fill="none" stroke-dasharray="7 3.5"/><circle cx="432.2" cy="248.5" r="23.9" fill="#0a0a0a"/><path d="M413.2,240.3 H418.4 V251.5 Q418.4,255.4 421.9,255.4 Q425.3,255.4 425.3,251.5 V240.3 H430.6 V252 Q430.6,260.7 421.9,260.7 Q413.2,260.7 413.2,252 Z" fill="#fff"/><path d="M433,240.3 H438.3 V255.3 H446.9 V260.6 H433 Z" fill="#fff"/><circle cx="445.3" cy="240" r="4.7" fill="#0a0a0a" stroke="#fff" stroke-width="1.4"/><text x="445.4" y="242.7" font-family="Liberation Sans" font-weight="700" font-size="7.2" fill="#fff" text-anchor="middle">R</text><line x1="10" y1="332.6" x2="667" y2="332.6" stroke="#111" stroke-width="1.5"/><line x1="1" y1="396.2" x2="285.8" y2="396.2" stroke="#111" stroke-width="5"/><line x1="22.5" y1="396.2" x2="22.5" y2="665.2" stroke="#111" stroke-width="3"/><g transform="translate(23.40,399.00) rotate(45)"><polygon points="-0.4,-1.7 4.5,-2.1999999999999997 4.5,2.1999999999999997 -0.4,1.7" fill="#111"/><path d="M4.2,-2.05 H20.8 L25.200000000000003,0 L20.8,2.05 H4.2 Z" fill="#fff" stroke="#111" stroke-width="0.7" stroke-linejoin="miter"/><polygon points="22.78,-1.1275 25.400000000000002,0 22.78,1.1275" fill="#111"/></g><g transform="translate(21.75,452.00) rotate(135)"><polygon points="-0.4,-1.7 4.5,-2.1999999999999997 4.5,2.1999999999999997 -0.4,1.7" fill="#111"/><path d="M4.2,-2.05 H20.8 L25.200000000000003,0 L20.8,2.05 H4.2 Z" fill="#fff" stroke="#111" stroke-width="0.7" stroke-linejoin="miter"/><polygon points="22.78,-1.1275 25.400000000000002,0 22.78,1.1275" fill="#111"/></g><g transform="translate(23.25,505.30) rotate(45)"><polygon points="-0.4,-1.7 4.5,-2.1999999999999997 4.5,2.1999999999999997 -0.4,1.7" fill="#111"/><path d="M4.2,-2.05 H20.8 L25.200000000000003,0 L20.8,2.05 H4.2 Z" fill="#fff" stroke="#111" stroke-width="0.7" stroke-linejoin="miter"/><polygon points="22.78,-1.1275 25.400000000000002,0 22.78,1.1275" fill="#111"/></g><g transform="translate(21.75,558.60) rotate(135)"><polygon points="-0.4,-1.7 4.5,-2.1999999999999997 4.5,2.1999999999999997 -0.4,1.7" fill="#111"/><path d="M4.2,-2.05 H20.8 L25.200000000000003,0 L20.8,2.05 H4.2 Z" fill="#fff" stroke="#111" stroke-width="0.7" stroke-linejoin="miter"/><polygon points="22.78,-1.1275 25.400000000000002,0 22.78,1.1275" fill="#111"/></g><g transform="translate(23.25,611.90) rotate(45)"><polygon points="-0.4,-1.7 4.5,-2.1999999999999997 4.5,2.1999999999999997 -0.4,1.7" fill="#111"/><path d="M4.2,-2.05 H20.8 L25.200000000000003,0 L20.8,2.05 H4.2 Z" fill="#fff" stroke="#111" stroke-width="0.7" stroke-linejoin="miter"/><polygon points="22.78,-1.1275 25.400000000000002,0 22.78,1.1275" fill="#111"/></g><g transform="translate(22.50,665.20) rotate(135)"><polygon points="-0.4,-1.7 4.5,-2.1999999999999997 4.5,2.1999999999999997 -0.4,1.7" fill="#111"/><path d="M4.2,-2.05 H20.8 L25.200000000000003,0 L20.8,2.05 H4.2 Z" fill="#fff" stroke="#111" stroke-width="0.7" stroke-linejoin="miter"/><polygon points="22.78,-1.1275 25.400000000000002,0 22.78,1.1275" fill="#111"/></g><line x1="102" y1="396.2" x2="102" y2="558.5999999999999" stroke="#111" stroke-width="3"/><g transform="translate(102.90,399.00) rotate(45)"><polygon points="-0.4,-1.7 4.5,-2.1999999999999997 4.5,2.1999999999999997 -0.4,1.7" fill="#111"/><path d="M4.2,-2.05 H20.8 L25.200000000000003,0 L20.8,2.05 H4.2 Z" fill="#fff" stroke="#111" stroke-width="0.7" stroke-linejoin="miter"/><polygon points="22.78,-1.1275 25.400000000000002,0 22.78,1.1275" fill="#111"/></g><g transform="translate(101.25,452.00) rotate(135)"><polygon points="-0.4,-1.7 4.5,-2.1999999999999997 4.5,2.1999999999999997 -0.4,1.7" fill="#111"/><path d="M4.2,-2.05 H20.8 L25.200000000000003,0 L20.8,2.05 H4.2 Z" fill="#fff" stroke="#111" stroke-width="0.7" stroke-linejoin="miter"/><polygon points="22.78,-1.1275 25.400000000000002,0 22.78,1.1275" fill="#111"/></g><g transform="translate(102.75,505.30) rotate(45)"><polygon points="-0.4,-1.7 4.5,-2.1999999999999997 4.5,2.1999999999999997 -0.4,1.7" fill="#111"/><path d="M4.2,-2.05 H20.8 L25.200000000000003,0 L20.8,2.05 H4.2 Z" fill="#fff" stroke="#111" stroke-width="0.7" stroke-linejoin="miter"/><polygon points="22.78,-1.1275 25.400000000000002,0 22.78,1.1275" fill="#111"/></g><g transform="translate(102.00,558.60) rotate(135)"><polygon points="-0.4,-1.7 4.5,-2.1999999999999997 4.5,2.1999999999999997 -0.4,1.7" fill="#111"/><path d="M4.2,-2.05 H20.8 L25.200000000000003,0 L20.8,2.05 H4.2 Z" fill="#fff" stroke="#111" stroke-width="0.7" stroke-linejoin="miter"/><polygon points="22.78,-1.1275 25.400000000000002,0 22.78,1.1275" fill="#111"/></g><line x1="181.3" y1="396.2" x2="181.3" y2="611.9" stroke="#111" stroke-width="3"/><g transform="translate(182.20,399.00) rotate(45)"><polygon points="-0.4,-1.7 4.5,-2.1999999999999997 4.5,2.1999999999999997 -0.4,1.7" fill="#111"/><path d="M4.2,-2.05 H20.8 L25.200000000000003,0 L20.8,2.05 H4.2 Z" fill="#fff" stroke="#111" stroke-width="0.7" stroke-linejoin="miter"/><polygon points="22.78,-1.1275 25.400000000000002,0 22.78,1.1275" fill="#111"/></g><g transform="translate(180.55,452.00) rotate(135)"><polygon points="-0.4,-1.7 4.5,-2.1999999999999997 4.5,2.1999999999999997 -0.4,1.7" fill="#111"/><path d="M4.2,-2.05 H20.8 L25.200000000000003,0 L20.8,2.05 H4.2 Z" fill="#fff" stroke="#111" stroke-width="0.7" stroke-linejoin="miter"/><polygon points="22.78,-1.1275 25.400000000000002,0 22.78,1.1275" fill="#111"/></g><g transform="translate(182.05,505.30) rotate(45)"><polygon points="-0.4,-1.7 4.5,-2.1999999999999997 4.5,2.1999999999999997 -0.4,1.7" fill="#111"/><path d="M4.2,-2.05 H20.8 L25.200000000000003,0 L20.8,2.05 H4.2 Z" fill="#fff" stroke="#111" stroke-width="0.7" stroke-linejoin="miter"/><polygon points="22.78,-1.1275 25.400000000000002,0 22.78,1.1275" fill="#111"/></g><g transform="translate(180.55,558.60) rotate(135)"><polygon points="-0.4,-1.7 4.5,-2.1999999999999997 4.5,2.1999999999999997 -0.4,1.7" fill="#111"/><path d="M4.2,-2.05 H20.8 L25.200000000000003,0 L20.8,2.05 H4.2 Z" fill="#fff" stroke="#111" stroke-width="0.7" stroke-linejoin="miter"/><polygon points="22.78,-1.1275 25.400000000000002,0 22.78,1.1275" fill="#111"/></g><g transform="translate(181.30,611.90) rotate(45)"><polygon points="-0.4,-1.7 4.5,-2.1999999999999997 4.5,2.1999999999999997 -0.4,1.7" fill="#111"/><path d="M4.2,-2.05 H20.8 L25.200000000000003,0 L20.8,2.05 H4.2 Z" fill="#fff" stroke="#111" stroke-width="0.7" stroke-linejoin="miter"/><polygon points="22.78,-1.1275 25.400000000000002,0 22.78,1.1275" fill="#111"/></g><line x1="260.8" y1="396.2" x2="260.8" y2="505.29999999999995" stroke="#111" stroke-width="3"/><g transform="translate(261.70,399.00) rotate(45)"><polygon points="-0.4,-1.7 4.5,-2.1999999999999997 4.5,2.1999999999999997 -0.4,1.7" fill="#111"/><path d="M4.2,-2.05 H20.8 L25.200000000000003,0 L20.8,2.05 H4.2 Z" fill="#fff" stroke="#111" stroke-width="0.7" stroke-linejoin="miter"/><polygon points="22.78,-1.1275 25.400000000000002,0 22.78,1.1275" fill="#111"/></g><g transform="translate(260.05,452.00) rotate(135)"><polygon points="-0.4,-1.7 4.5,-2.1999999999999997 4.5,2.1999999999999997 -0.4,1.7" fill="#111"/><path d="M4.2,-2.05 H20.8 L25.200000000000003,0 L20.8,2.05 H4.2 Z" fill="#fff" stroke="#111" stroke-width="0.7" stroke-linejoin="miter"/><polygon points="22.78,-1.1275 25.400000000000002,0 22.78,1.1275" fill="#111"/></g><g transform="translate(260.80,505.30) rotate(45)"><polygon points="-0.4,-1.7 4.5,-2.1999999999999997 4.5,2.1999999999999997 -0.4,1.7" fill="#111"/><path d="M4.2,-2.05 H20.8 L25.200000000000003,0 L20.8,2.05 H4.2 Z" fill="#fff" stroke="#111" stroke-width="0.7" stroke-linejoin="miter"/><polygon points="22.78,-1.1275 25.400000000000002,0 22.78,1.1275" fill="#111"/></g><line x1="53.3" y1="400" x2="53.3" y2="675.5" stroke="#888" stroke-width="1"/><polygon points="48.5,672.0 53.3,674.7 58.099999999999994,672.0 53.3,677.5" fill="#111"/><line x1="129.3" y1="400" x2="129.3" y2="563" stroke="#888" stroke-width="1"/><polygon points="124.50000000000001,559.5 129.3,562.2 134.10000000000002,559.5 129.3,565" fill="#111"/><line x1="227.3" y1="400" x2="227.3" y2="618" stroke="#888" stroke-width="1"/><polygon points="222.5,614.5 227.3,617.2 232.10000000000002,614.5 227.3,620" fill="#111"/><line x1="308.3" y1="400" x2="308.3" y2="506.3" stroke="#888" stroke-width="1"/><polygon points="303.5,502.8 308.3,505.5 313.1,502.8 308.3,508.3" fill="#111"/></svg>
<div class="t" style="left:141.49px;top:-1.70px;font-size:25.46px;font-weight:700;letter-spacing:0.754px;transform:scaleX(0.92);transform-origin:0 0;">Total 1620 LED 164Ft (360 Drops)</div><div class="t" style="left:38.36px;top:53.91px;font-size:21.08px;font-weight:400;letter-spacing:-0.206px;">810 LED 82Ft (180 Drops)</div><div class="t" style="left:382.06px;top:53.91px;font-size:21.08px;font-weight:400;letter-spacing:-0.202px;">810 LED 82Ft (180 Drops)</div><div class="t" style="left:98.29px;top:190.62px;font-size:19.67px;font-weight:700;letter-spacing:1.062px;transform:scaleX(0.9);transform-origin:0 0;">0.33ft</div><div class="t" style="left:40.28px;top:227.07px;font-size:19.95px;font-weight:700;letter-spacing:0.851px;transform:scaleX(0.9);transform-origin:0 0;">0.47ft</div><div class="t" style="left:137.80px;top:256.99px;font-size:20.05px;font-weight:700;letter-spacing:0.856px;transform:scaleX(0.9);transform-origin:0 0;">Repeat(90 groups)</div><div class="t" style="left:310.55px;top:227.04px;font-size:24.52px;font-weight:700;letter-spacing:0.580px;transform:scaleX(0.92);transform-origin:0 0;">10ft</div><div class="t" style="left:626.38px;top:178.24px;font-size:19.49px;font-weight:700;letter-spacing:1.126px;transform:scaleX(0.9);transform-origin:0 0;">3LED</div><div class="t" style="left:552.46px;top:202.93px;font-size:20.05px;font-weight:700;letter-spacing:0.738px;transform:scaleX(0.9);transform-origin:0 0;">4LED</div><div class="t" style="left:589.60px;top:233.06px;font-size:19.86px;font-weight:700;letter-spacing:0.992px;transform:scaleX(0.9);transform-origin:0 0;">5LED</div><div class="t" style="left:515.61px;top:253.42px;font-size:19.67px;font-weight:700;letter-spacing:1.073px;transform:scaleX(0.9);transform-origin:0 0;">6LED</div><div class="t" style="left:28.83px;top:683.27px;font-size:19.76px;font-weight:700;letter-spacing:0.362px;transform:scaleX(0.9);transform-origin:0 0;">1.65ft</div><div class="t" style="left:105.01px;top:568.88px;font-size:19.25px;font-weight:700;letter-spacing:0.746px;transform:scaleX(0.9);transform-origin:0 0;">0.99ft</div><div class="t" style="left:203.33px;top:627.07px;font-size:19.76px;font-weight:700;letter-spacing:0.473px;transform:scaleX(0.9);transform-origin:0 0;">1.32ft</div><div class="t" style="left:283.71px;top:510.70px;font-size:19.10px;font-weight:700;letter-spacing:0.774px;transform:scaleX(0.9);transform-origin:0 0;">0.66ft</div><div class="t" style="left:349.69px;top:415.68px;font-size:20.12px;font-weight:700;letter-spacing:0.910px;transform:scaleX(0.9);transform-origin:0 0;">Package Included:</div><div class="t" style="left:349.71px;top:450.96px;font-size:20.12px;font-weight:700;letter-spacing:0.819px;transform:scaleX(0.9);transform-origin:0 0;">1* 164ft 1620 LED Christmas Lights</div><div class="t" style="left:349.71px;top:520.16px;font-size:20.12px;font-weight:700;letter-spacing:0.890px;transform:scaleX(0.9);transform-origin:0 0;">1* User Manual</div><div class="t" style="left:349.71px;top:485.46px;font-size:20.12px;font-weight:700;letter-spacing:0.946px;transform:scaleX(0.9);transform-origin:0 0;">1* Low Voltage Power Adapter</div><div class="t" style="left:349.59px;top:623.76px;font-size:20.12px;font-weight:700;letter-spacing:0.937px;transform:scaleX(0.9);transform-origin:0 0;">Input Voltage: 120V/60Hz</div><div class="t" style="left:349.90px;top:659.01px;font-size:19.56px;font-weight:700;letter-spacing:1.213px;transform:scaleX(0.9);transform-origin:0 0;">Output Voltage: 29V/6W</div>
</body></html>
